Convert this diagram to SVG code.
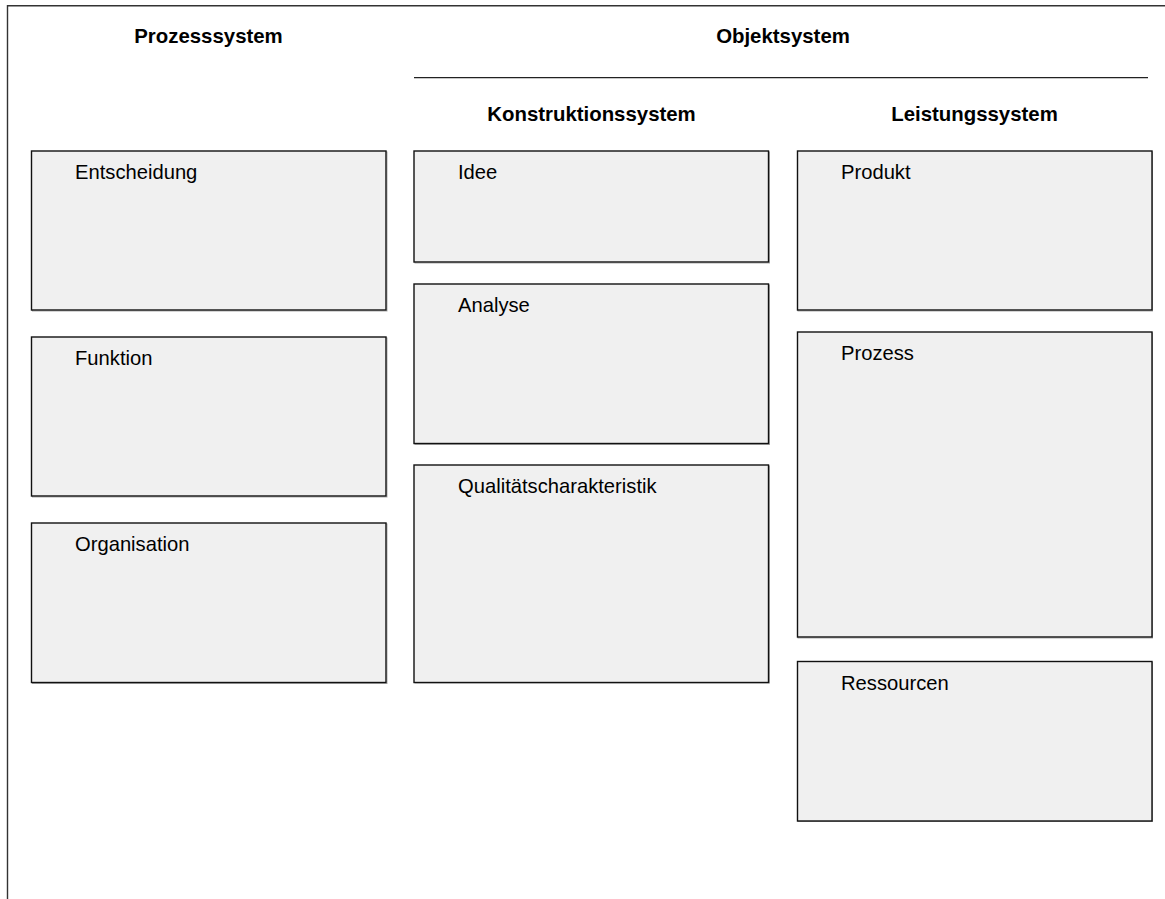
<svg xmlns="http://www.w3.org/2000/svg" width="1165" height="899" viewBox="0 0 1165 899">
<style>
.frame{fill:none;stroke:#333;stroke-width:1.4}
.box{fill:#f0f0f0;stroke:#111;stroke-width:1.4}
.shadow{fill:none;stroke:#aaa;stroke-width:1}
.hdr{font-family:"Liberation Sans",Arial,sans-serif;font-size:20.4px;font-weight:bold;fill:#000;text-anchor:middle}
.lbl{font-family:"Liberation Sans",Arial,sans-serif;font-size:20.2px;fill:#000}
</style>
<rect width="1165" height="899" fill="#fff"/>
<path class="frame" d="M7.5,905 V5.7 H1170"/>
<g id="headers">
<text class="hdr" x="208.5" y="43">Prozesssystem</text>
<text class="hdr" x="783" y="43">Objektsystem</text>
<line x1="414" y1="77.7" x2="1148" y2="77.7" stroke="#222" stroke-width="1.2"/>
<text class="hdr" x="591.5" y="121">Konstruktionssystem</text>
<text class="hdr" x="974.5" y="121">Leistungssystem</text>
</g>
<g id="entscheidung"><rect class="shadow" x="32.5" y="152" width="354.5" height="159"/><rect class="box" x="31.5" y="151" width="354.5" height="159"/><text class="lbl" x="75" y="179">Entscheidung</text></g>
<g id="funktion"><rect class="shadow" x="32.5" y="338" width="354.5" height="159"/><rect class="box" x="31.5" y="337" width="354.5" height="159"/><text class="lbl" x="75" y="365">Funktion</text></g>
<g id="organisation"><rect class="shadow" x="32.5" y="524" width="354.5" height="159.5"/><rect class="box" x="31.5" y="523" width="354.5" height="159.5"/><text class="lbl" x="75" y="551">Organisation</text></g>
<g id="idee"><rect class="shadow" x="415" y="152" width="354.5" height="111"/><rect class="box" x="414" y="151" width="354.5" height="111"/><text class="lbl" x="458" y="179">Idee</text></g>
<g id="analyse"><rect class="shadow" x="415" y="285" width="354.5" height="159.5"/><rect class="box" x="414" y="284" width="354.5" height="159.5"/><text class="lbl" x="458" y="312">Analyse</text></g>
<g id="qualitaet"><rect class="shadow" x="415" y="466" width="354.5" height="217"/><rect class="box" x="414" y="465" width="354.5" height="217.5"/><text class="lbl" x="458" y="493">Qualitätscharakteristik</text></g>
<g id="produkt"><rect class="shadow" x="798" y="152" width="354.5" height="159"/><rect class="box" x="797.5" y="151" width="354.5" height="159"/><text class="lbl" x="841" y="179">Produkt</text></g>
<g id="prozess"><rect class="shadow" x="798" y="333" width="354.5" height="305"/><rect class="box" x="797.5" y="332" width="354.5" height="305"/><text class="lbl" x="841" y="360">Prozess</text></g>
<g id="ressourcen"><rect class="shadow" x="798" y="662.5" width="354.5" height="159"/><rect class="box" x="797.5" y="661.5" width="354.5" height="159.5"/><text class="lbl" x="841" y="690">Ressourcen</text></g>
<g id="connectors"/>
</svg>
